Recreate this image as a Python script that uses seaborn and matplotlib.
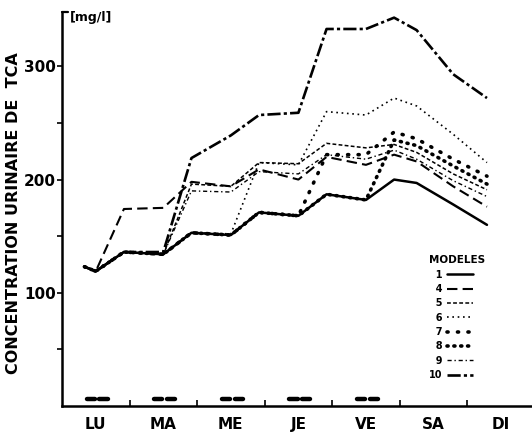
import matplotlib
matplotlib.use("Agg")
import matplotlib.pyplot as plt
import matplotlib.transforms as mtransforms
import pandas as pd
import seaborn as sns

# Sampling times (hours from Monday 0h)
hours = [8, 12, 22, 36, 46, 60, 70, 84, 94, 108, 118, 126, 139, 151]

# Urinary TCA concentration (mg/l) for each model
model_1 = [123, 119, 136, 134, 153, 151, 171, 168, 187, 182, 200, 197, 178, 160]
model_4 = [123, 119, 174, 175, 198, 194, 209, 200, 220, 213, 222, 216, 194, 176]
model_5 = [123, 119, 136, 134, 196, 194, 215, 214, 232, 228, 231, 224, 205, 191]
model_6 = [123, 119, 136, 134, 153, 152, 215, 213, 260, 257, 272, 265, 240, 215]
model_7 = [123, 119, 136, 134, 153, 151, 171, 168, 222, 222, 242, 236, 218, 203]
model_8 = [123, 119, 136, 134, 153, 151, 171, 168, 187, 182, 235, 230, 212, 196]
model_9 = [123, 119, 136, 134, 190, 189, 207, 205, 222, 218, 226, 218, 199, 185]
model_10 = [123, 119, 136, 136, 219, 239, 257, 259, 333, 333, 343, 332, 293, 272]

model_names = ["1", "4", "5", "6", "7", "8", "9", "10"]
model_values = [model_1, model_4, model_5, model_6, model_7, model_8, model_9, model_10]

# Days of the week and exposure periods (hours)
days = ["LU", "MA", "ME", "JE", "VE", "SA", "DI"]
exposure_days = [0, 1, 2, 3, 4]
shift_am = (8, 12.5)
shift_pm = (12.5, 17)

y_ticks = [100, 200, 300]

rows = []
for name, vals in zip(model_names, model_values):
    for h, v in zip(hours, vals):
        rows.append({"heure": h, "tca": v, "modele": name})
df = pd.DataFrame(rows)

sns.set_style("ticks")
plt.rcParams["font.family"] = ["DejaVu Sans"]
plt.rcParams["font.weight"] = "bold"
for key in ("text.color", "axes.labelcolor", "xtick.color", "ytick.color", "axes.edgecolor"):
    plt.rcParams[key] = "black"

styles = {
    "1": dict(linestyle="-", lw=1.8),
    "4": dict(linestyle=(0, (5, 2.5)), lw=1.5),
    "5": dict(linestyle=(0, (2.5, 1.5)), lw=1.1),
    "6": dict(linestyle=(0, (1, 2.2)), lw=1.2),
    "7": dict(linestyle=(0, (0.3, 2.6)), lw=2.6, dash_capstyle="round"),
    "8": dict(linestyle=(0, (0.3, 1.6)), lw=2.6, dash_capstyle="round"),
    "9": dict(linestyle=(0, (3, 2, 1, 2)), lw=1.0),
    "10": dict(linestyle=(0, (5, 1.2, 1.2, 1.2)), lw=1.9),
}

fig = plt.figure(figsize=(5.32, 4.37), dpi=100)
ax = fig.add_axes([62 / 532, 31 / 437, 470 / 532, 394 / 437])

for name in model_names:
    sub = df[df["modele"] == name]
    sns.lineplot(data=sub, x="heure", y="tca", ax=ax, color="black",
                 estimator=None, sort=False, label="\u2007" + name if len(name) == 1 else name,
                 **styles[name])

# exposure periods along the bottom
trans = mtransforms.blended_transform_factory(ax.transData, ax.transAxes)
cap = 0.8
for d in exposure_days:
    for a, b in (shift_am, shift_pm):
        ax.plot([24 * d + a + cap, 24 * d + b - cap], [0.019, 0.019], transform=trans,
                color="black", lw=3.2, solid_capstyle="round", clip_on=False)

ax.set_xlim(0, 167)
ax.set_ylim(0, 348)

# x axis: day boundaries as ticks, day names centred
ax.set_xticks([24 * i for i in range(1, 7)])
ax.set_xticklabels([])
ax.set_xticks([24 * i + 12 for i in range(7)], minor=True)
ax.set_xticklabels(days, minor=True, fontsize=11, fontweight="bold")
ax.tick_params(axis="x", which="major", direction="in", length=4, width=1.2)
ax.tick_params(axis="x", which="minor", length=0, pad=8)

ax.set_yticks(y_ticks)
ax.set_yticklabels([str(t) for t in y_ticks], fontsize=11, fontweight="bold")
ax.set_yticks([50, 150, 250], minor=True)
ax.tick_params(axis="y", which="both", direction="out", length=3.5, width=1.2, pad=1)

sns.despine(ax=ax)
ax.spines["left"].set_linewidth(1.8)
ax.spines["bottom"].set_linewidth(1.8)

ax.set_xlabel("")
ax.set_ylabel("CONCENTRATION URINAIRE DE  TCA", fontsize=11.5, fontweight="bold")
ax.yaxis.set_label_coords(-0.088, 0.49)

# unit mark at the top of the y axis
ax.plot([0, 0.012], [1, 1], transform=ax.transAxes, color="black", lw=1.6, clip_on=False)
ax.text(0.016, 1.003, "[mg/l]", transform=ax.transAxes, ha="left", va="top",
        fontsize=9, fontweight="bold")

leg = ax.legend(title="MODELES", loc="upper left", bbox_to_anchor=(0.77, 0.395),
                frameon=False, markerfirst=False, fontsize=7, title_fontsize=7.5,
                handlelength=2.6, handletextpad=0.5, labelspacing=0.45, borderpad=0,
                alignment="left")
leg.get_title().set_fontweight("bold")
for t in leg.get_texts():
    t.set_fontweight("bold")

fig.savefig("out.png", dpi=100, facecolor="white")
